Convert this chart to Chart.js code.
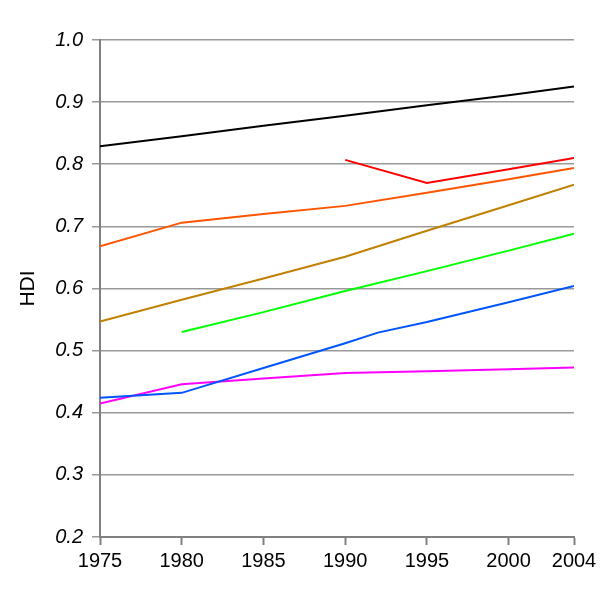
<!DOCTYPE html>
<html>
<head>
<meta charset="utf-8">
<script src="https://cdn.jsdelivr.net/npm/chart.js@4"></script>
<style>
  html, body { margin: 0; padding: 0; background: #fff; }
  #wrap { width: 614px; height: 600px; }
</style>
</head>
<body>
<div id="wrap"><canvas id="hdiChart"></canvas></div>
<script>
// HDI readings per series (years on a linear axis)
const fullYears = [1975, 1980, 1985, 1990, 1995, 2000, 2004];
const blackHdi = [0.829, 0.845, 0.862, 0.878, 0.895, 0.911, 0.925];
const orangeHdi = [0.668, 0.706, 0.720, 0.733, 0.754, 0.776, 0.794];
const goldHdi = [0.547, 0.582, 0.616, 0.651, 0.693, 0.734, 0.767];

const redYears = [1990, 1995, 2000, 2004];
const redHdi = [0.807, 0.770, 0.792, 0.810];

const greenYears = [1980, 1985, 1990, 1995, 2000, 2004];
const greenHdi = [0.530, 0.562, 0.596, 0.628, 0.661, 0.688];

const blueYears = [1975, 1980, 1985, 1990, 1992, 1995, 2000, 2004];
const blueHdi = [0.424, 0.432, 0.472, 0.512, 0.529, 0.546, 0.578, 0.604];

const magentaYears = [1975, 1980, 1985, 1990, 1995, 2000, 2004];
const magentaHdi = [0.415, 0.446, 0.455, 0.464, 0.467, 0.470, 0.473];

const xTicks = [1975, 1980, 1985, 1990, 1995, 2000, 2004];
const yTicks = [0.2, 0.3, 0.4, 0.5, 0.6, 0.7, 0.8, 0.9, 1.0];

function pts(xs, ys) {
    return xs.map((x, i) => ({ x: x, y: ys[i] }));
}

function line(xs, ys, color) {
    return {
        data: pts(xs, ys),
        borderColor: color,
        borderWidth: 2,
        pointRadius: 0,
        tension: 0,
        fill: false
    };
}

const ctx = document.getElementById('hdiChart').getContext('2d');
const hdiChart = new Chart(ctx, {
    type: 'line',
    data: {
        datasets: [
            line(fullYears, blackHdi, '#000000'),
            line(redYears, redHdi, '#ff0000'),
            line(fullYears, orangeHdi, '#ff5500'),
            line(fullYears, goldHdi, '#c08000'),
            line(greenYears, greenHdi, '#00ff00'),
            line(blueYears, blueHdi, '#0055ff'),
            line(magentaYears, magentaHdi, '#ff00ff')
        ]
    },
    options: {
        responsive: true,
        maintainAspectRatio: false,
        animation: false,
        layout: { padding: { left: 0, right: 40, top: 40, bottom: 0 } },
        plugins: {
            legend: { display: false },
            tooltip: { enabled: false }
        },
        scales: {
            x: {
                type: 'linear',
                min: 1975,
                max: 2004,
                afterBuildTicks: (scale) => { scale.ticks = xTicks.map(v => ({ value: v })); },
                afterFit: (scale) => { scale.height = 63; },
                grid: {
                    drawOnChartArea: false,
                    drawTicks: true,
                    tickLength: 8,
                    tickColor: '#808080',
                    tickWidth: 2
                },
                border: { color: '#808080', width: 2 },
                ticks: {
                    color: '#000',
                    padding: 4,
                    maxRotation: 0,
                    font: { family: 'Liberation Sans', size: 20 },
                    callback: (v) => String(v)
                }
            },
            y: {
                min: 0.2,
                max: 1.0,
                afterBuildTicks: (scale) => { scale.ticks = yTicks.map(v => ({ value: v })); },
                afterFit: (scale) => { scale.width = 100; },
                grid: {
                    color: '#999999',
                    lineWidth: 1.5,
                    drawTicks: true,
                    tickLength: 8,
                    tickColor: '#999999'
                },
                border: { color: '#808080', width: 2 },
                ticks: {
                    color: '#000',
                    padding: 9,
                    font: { family: 'Liberation Sans', size: 20, style: 'italic' },
                    callback: (v) => v.toFixed(1)
                },
                title: {
                    display: true,
                    text: 'HDI',
                    color: '#000',
                    padding: { top: 16, bottom: 0 },
                    font: { family: 'Liberation Sans', size: 21 }
                }
            }
        }
    }
});
</script>
</body>
</html>
